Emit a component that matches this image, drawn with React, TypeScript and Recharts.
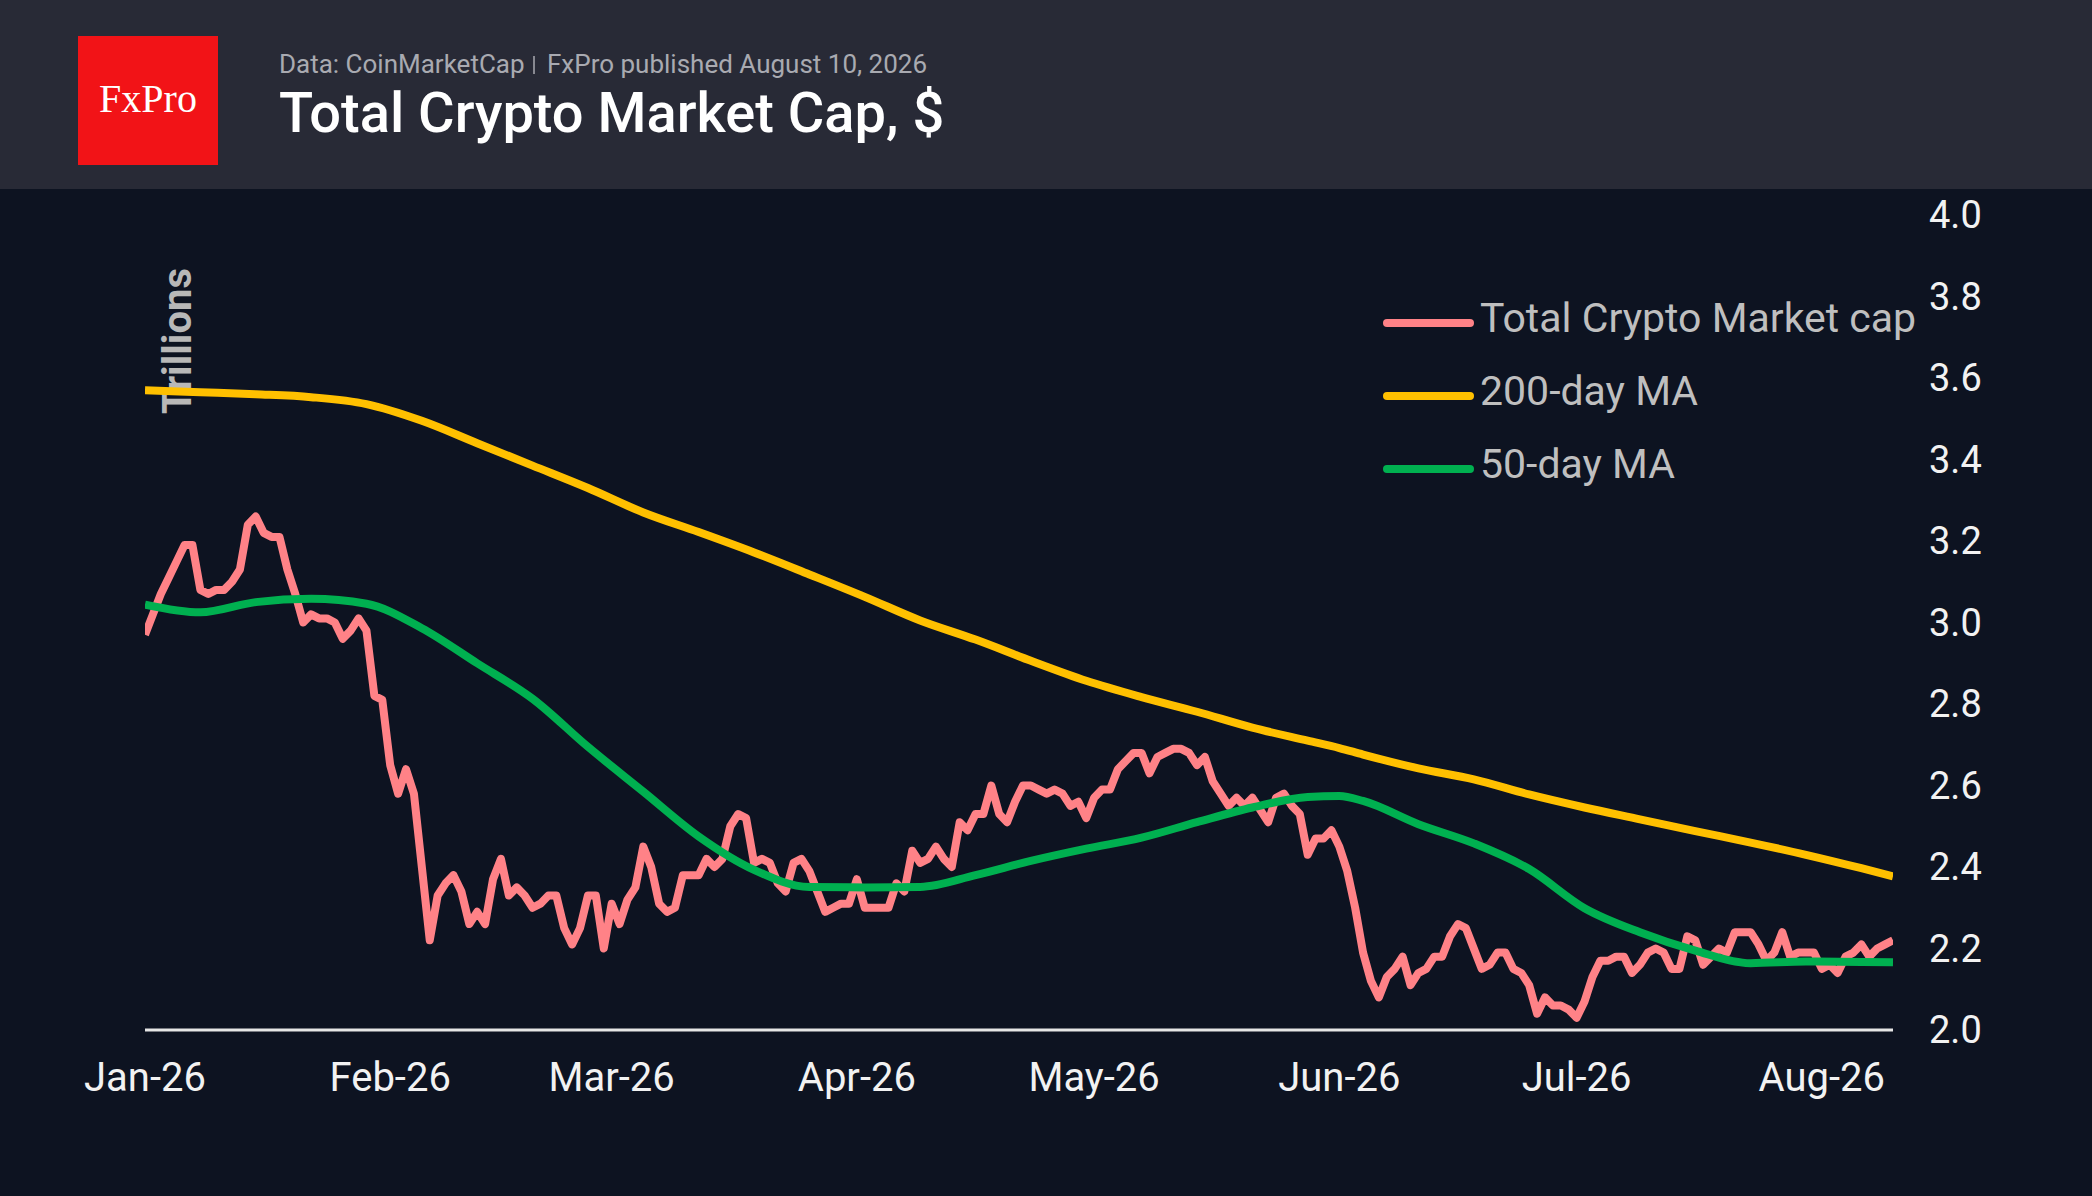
import React from "react"
import { LineChart, Line, XAxis, YAxis, Legend } from "recharts"

// daily total crypto market cap, $ trillions, Jan 1 .. Aug 10 2026
const marketCap = [
  // Jan
  2.97, 3.02, 3.07, 3.11, 3.15, 3.19, 3.19, 3.08, 3.07, 3.08,
  3.08, 3.10, 3.13, 3.24, 3.26, 3.22, 3.21, 3.21, 3.13, 3.07,
  3.00, 3.02, 3.01, 3.01, 3.00, 2.96, 2.98, 3.01, 2.98, 2.82,
  2.81,
  // Feb
  2.65, 2.58, 2.64, 2.58, 2.40, 2.22, 2.33, 2.36, 2.38, 2.34,
  2.26, 2.29, 2.26, 2.37, 2.42, 2.33, 2.35, 2.33, 2.30, 2.31,
  2.33, 2.33, 2.25, 2.21, 2.25, 2.33, 2.33, 2.20,
  // Mar
  2.31, 2.26, 2.32, 2.35, 2.45, 2.40, 2.31, 2.29, 2.30, 2.38,
  2.38, 2.38, 2.42, 2.40, 2.42, 2.50, 2.53, 2.52, 2.41, 2.42,
  2.41, 2.36, 2.34, 2.41, 2.42, 2.39, 2.34, 2.29, 2.30, 2.31,
  2.31,
  // Apr
  2.37, 2.30, 2.30, 2.30, 2.30, 2.36, 2.34, 2.44, 2.41, 2.42,
  2.45, 2.42, 2.40, 2.51, 2.49, 2.53, 2.53, 2.60, 2.53, 2.51,
  2.56, 2.60, 2.60, 2.59, 2.58, 2.59, 2.58, 2.55, 2.56, 2.52,
  // May
  2.57, 2.59, 2.59, 2.64, 2.66, 2.68, 2.68, 2.63, 2.67, 2.68,
  2.69, 2.69, 2.68, 2.65, 2.67, 2.61, 2.58, 2.55, 2.57, 2.55,
  2.57, 2.54, 2.51, 2.57, 2.58, 2.55, 2.53, 2.43, 2.47, 2.47,
  2.49,
  // Jun
  2.45, 2.39, 2.30, 2.19, 2.12, 2.08, 2.13, 2.15, 2.18, 2.11,
  2.14, 2.15, 2.18, 2.18, 2.23, 2.26, 2.25, 2.20, 2.15, 2.16,
  2.19, 2.19, 2.15, 2.14, 2.11, 2.04, 2.08, 2.06, 2.06, 2.05,
  // Jul
  2.03, 2.07, 2.13, 2.17, 2.17, 2.18, 2.18, 2.14, 2.16, 2.19,
  2.20, 2.19, 2.15, 2.15, 2.23, 2.22, 2.16, 2.18, 2.20, 2.19,
  2.24, 2.24, 2.24, 2.21, 2.17, 2.19, 2.24, 2.18, 2.19, 2.19,
  2.19,
  // Aug
  2.15, 2.16, 2.14, 2.18, 2.19, 2.21, 2.18, 2.20, 2.21, 2.22,
]

const maDays = [
  0, 7, 14, 21, 28, 35, 42, 49, 56, 63, 70, 77, 84, 91, 98, 105, 112,
  119, 126, 133, 140, 147, 151, 154, 161, 168, 175, 182, 189, 196, 203, 210, 217, 221,
]
const ma200 = [
  3.57, 3.565, 3.56, 3.553, 3.536, 3.495, 3.44, 3.385, 3.33, 3.27, 3.222,
  3.172, 3.118, 3.063, 3.005, 2.958, 2.906, 2.857, 2.817, 2.781, 2.742,
  2.71, 2.692, 2.676, 2.642, 2.615, 2.578, 2.546, 2.517, 2.488, 2.46, 2.43, 2.397, 2.377,
]
const ma50 = [
  3.044, 3.025, 3.05, 3.058, 3.046, 2.986, 2.9, 2.813, 2.695, 2.585, 2.475,
  2.393, 2.351, 2.35, 2.351, 2.38, 2.415, 2.445, 2.472, 2.51, 2.546,
  2.572, 2.574, 2.562, 2.505, 2.458, 2.395, 2.299, 2.24, 2.195, 2.164, 2.168, 2.167, 2.166,
]

const monthStarts = [0, 31, 59, 90, 120, 151, 181, 212]
const monthLabels = ["Jan-26", "Feb-26", "Mar-26", "Apr-26", "May-26", "Jun-26", "Jul-26", "Aug-26"]
const yTicks = [2.0, 2.2, 2.4, 2.6, 2.8, 3.0, 3.2, 3.4, 3.6, 3.8, 4.0]
const seriesNames = ["Total Crypto Market cap", "200-day MA", "50-day MA"]

const capData = marketCap.map((v, i) => ({ day: i, cap: v }))
const maData = maDays.map((d, i) => ({ day: d, ma200: ma200[i], ma50: ma50[i] }))

const FONT = "Roboto, 'Noto Sans', sans-serif"

const renderLegend = (props: any) => {
  const items = [...(props.payload || [])].sort(
    (a: any, b: any) => seriesNames.indexOf(a.value) - seriesNames.indexOf(b.value)
  )
  return (
    <div>
      {items.map((item: any) => (
        <div key={item.value} style={{ display: "flex", alignItems: "center", height: 73 }}>
          <div style={{ width: 91, height: 8, borderRadius: 4, background: item.color }} />
          <span
            style={{
              marginLeft: 6,
              fontFamily: FONT,
              fontSize: 41,
              lineHeight: 1,
              color: "#bfbfbf",
              position: "relative",
              top: -4,
              whiteSpace: "nowrap",
            }}
          >
            {item.value}
          </span>
        </div>
      ))}
    </div>
  )
}

export default function App() {
  return (
    <div
      style={{
        position: "absolute",
        left: 0,
        top: 0,
        width: 2092,
        height: 1196,
        background: "#0d1321",
        overflow: "hidden",
      }}
    >
      <svg width={2092} height={1196} style={{ position: "absolute", left: 0, top: 0 }}>
        <rect x={0} y={0} width={2092} height={189} fill="#282a36" />
        <rect x={78} y={36} width={140} height={129} fill="#f21317" />
        <text
          x={148}
          y={112}
          textAnchor="middle"
          fontFamily="'Liberation Serif', serif"
          fontSize={40}
          fill="#ffffff"
        >
          FxPro
        </text>
        <text x={279} y={73} fontFamily={FONT} fontSize={26} fill="#a9aab1">
          Data: CoinMarketCap
        </text>
        <line x1={534} y1={56} x2={534} y2={74} stroke="#a9aab1" strokeWidth={1.5} />
        <text x={547} y={73} fontFamily={FONT} fontSize={26} fill="#a9aab1">
          FxPro published August 10, 2026
        </text>
        <text x={279} y={132} fontFamily={FONT} fontSize={56} fontWeight={500} fill="#ffffff">
          Total Crypto Market Cap, $
        </text>
        <text
          transform="translate(191,341) rotate(-90)"
          textAnchor="middle"
          fontFamily={FONT}
          fontSize={40}
          fontWeight={700}
          fill="#b8b8b8"
        >
          Trillions
        </text>
      </svg>

      <div style={{ position: "absolute", left: 0, top: 0 }}>
        <LineChart width={2092} height={1196} margin={{ top: 215, right: 49, bottom: 106, left: 145 }}>
          <XAxis
            dataKey="day"
            type="number"
            domain={[0, 221]}
            ticks={monthStarts}
            tickFormatter={(d: number) => monthLabels[monthStarts.indexOf(d)]}
            allowDataOverflow
            height={60}
            axisLine={{ stroke: "#e6e6e6", strokeWidth: 3 }}
            tickLine={false}
            tickMargin={27}
            tick={{ fill: "#f2f2f2", fontSize: 40, fontFamily: FONT }}
            interval={0}
          />
          <YAxis
            orientation="right"
            type="number"
            domain={[2, 4]}
            ticks={yTicks}
            tickFormatter={(v: number) => v.toFixed(1)}
            width={150}
            axisLine={false}
            tickLine={false}
            tickMargin={30}
            tick={{ fill: "#f2f2f2", fontSize: 38, fontFamily: FONT, textAnchor: "start" }}
            interval={0}
          />
          <Legend
            layout="horizontal"
            verticalAlign="middle"
            align="center"
            content={renderLegend}
            wrapperStyle={{ position: "absolute", left: 1383, top: 286, width: 600 }}
          />
          <Line
            data={capData}
            dataKey="cap"
            name="Total Crypto Market cap"
            type="linear"
            stroke="#ff8287"
            strokeWidth={8}
            strokeLinejoin="round"
            dot={false}
            activeDot={false}
            isAnimationActive={false}
          />
          <Line
            data={maData}
            dataKey="ma200"
            name="200-day MA"
            type="monotone"
            stroke="#ffc000"
            strokeWidth={8}
            strokeLinejoin="round"
            dot={false}
            activeDot={false}
            isAnimationActive={false}
          />
          <Line
            data={maData}
            dataKey="ma50"
            name="50-day MA"
            type="monotone"
            stroke="#00b050"
            strokeWidth={8}
            strokeLinejoin="round"
            dot={false}
            activeDot={false}
            isAnimationActive={false}
          />
        </LineChart>
      </div>
    </div>
  )
}
